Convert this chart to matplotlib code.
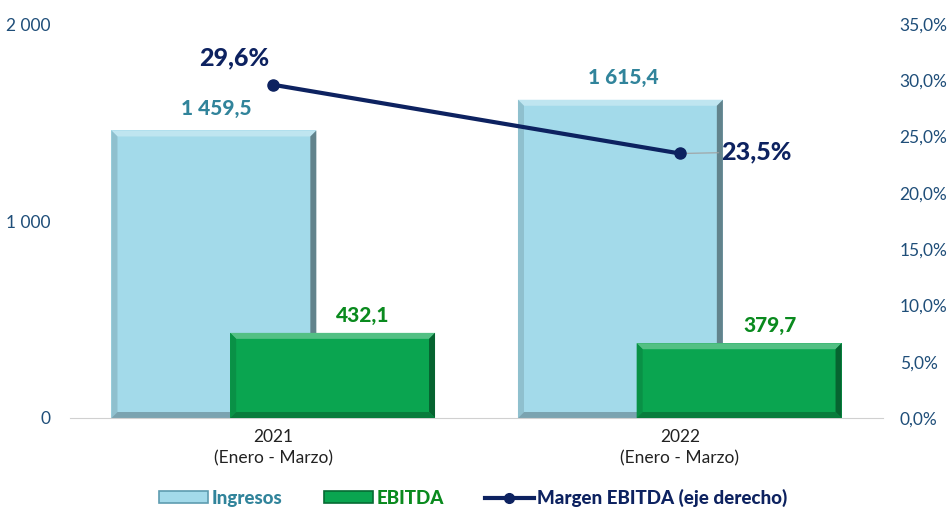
import matplotlib
matplotlib.use("Agg")
import matplotlib.pyplot as plt
from matplotlib.patches import Polygon, Rectangle
from matplotlib.ticker import FuncFormatter, MultipleLocator
from matplotlib import font_manager as fm
import matplotlib.colors as mc
import numpy as np

categories = ["2021\n(Enero - Marzo)", "2022\n(Enero - Marzo)"]
ingresos = [1459.5, 1615.4]
ebitda = [432.1, 379.7]
margen = [29.6, 23.5]
ingresos_labels = ["1 459,5", "1 615,4"]
ebitda_labels = ["432,1", "379,7"]
margen_labels = ["29,6%", "23,5%"]

plt.rcParams['font.family'] = ['Lato', 'DejaVu Sans']

# find a bold face
bold_file = None
for fam in ['Lato', 'Open Sans', 'Noto Sans', 'DejaVu Sans']:
    cands = [f for f in fm.fontManager.ttflist if f.name == fam and f.style == 'normal'
             and (isinstance(f.weight, int) and f.weight >= 700 or f.weight in ('bold', 'heavy', 'black'))]
    if cands:
        bold_file = cands[0].fname
        break
def BP(size):
    if bold_file:
        return fm.FontProperties(fname=bold_file, size=size)
    return fm.FontProperties(family='DejaVu Sans', weight='bold', size=size)

C_ING = "#A3DAEA"
C_ING_TXT = "#31849B"
C_EBI = "#0AA550"
C_EBI_TXT = "#0A8A1E"
C_LINE = "#0D2260"
C_TICK = "#1F4E79"

fig = plt.figure(figsize=(9.47, 5.11), dpi=100)
ax = fig.add_axes([70/947, 1-418/511, 813/947, 394/511])
ax2 = ax.twinx()

x = np.arange(len(categories))
w = 0.504
off = 0.146
b1 = ax.bar(x - off, ingresos, w, color=C_ING, zorder=2)
b2 = ax.bar(x + off, ebitda, w, color=C_EBI, zorder=3)

ax.set_xlim(-0.5, 1.5)
ax.set_ylim(0, 2000)
ax2.set_ylim(0, 35)
ax.yaxis.set_major_locator(MultipleLocator(1000))
ax2.yaxis.set_major_locator(MultipleLocator(5))
ax.yaxis.set_major_formatter(FuncFormatter(lambda v, p: f"{int(v):,}".replace(",", " ")))
ax2.yaxis.set_major_formatter(FuncFormatter(lambda v, p: f"{v:.1f}%".replace(".", ",")))
for a in (ax, ax2):
    for s in a.spines.values():
        s.set_visible(False)
    a.tick_params(length=0, labelsize=12.5, labelcolor=C_TICK)
ax.spines['bottom'].set_visible(True)
ax.spines['bottom'].set_color("#D0D0D0")
ax.set_xticks(x)
ax.set_xticklabels(categories, fontsize=12.5, color="#222222", linespacing=1.4)
ax.tick_params(axis='y', pad=14)
ax2.tick_params(axis='y', pad=12)
ax.tick_params(axis='x', pad=8)

# bevel effect
fig.canvas.draw()
inv = ax.transData.inverted()
def bevel(bar, base, zo):
    bb = bar.get_window_extent()
    d = 6
    x0, y0, x1, y1 = bb.x0, bb.y0, bb.x1, bb.y1
    def P(pts):
        return [tuple(inv.transform(p)) for p in pts]
    rgb = np.array(mc.to_rgb(base))
    light = np.clip(rgb + (1 - rgb) * 0.3, 0, 1)
    polys = [
        (P([(x0, y1), (x1, y1), (x1 - d, y1 - d), (x0 + d, y1 - d)]), light),
        (P([(x0, y0), (x0, y1), (x0 + d, y1 - d), (x0 + d, y0 + d)]), rgb * 0.88),
        (P([(x1, y0), (x1, y1), (x1 - d, y1 - d), (x1 - d, y0 + d)]), rgb * 0.6),
        (P([(x0, y0), (x1, y0), (x1 - d, y0 + d), (x0 + d, y0 + d)]), rgb * 0.75),
    ]
    for pts, c in polys:
        ax.add_patch(Polygon(pts, closed=True, facecolor=c, edgecolor='none', zorder=zo))

for b in b1:
    bevel(b, C_ING, 2.1)
for b in b2:
    bevel(b, C_EBI, 3.1)

for i in range(len(x)):
    ax.annotate(ingresos_labels[i], (x[i] - off, ingresos[i]), xytext=(2, 9), textcoords='offset points',
                ha='center', va='bottom', fontproperties=BP(15), color=C_ING_TXT)
    ax.annotate(ebitda_labels[i], (x[i] + off, ebitda[i]), xytext=(22, 6), textcoords='offset points',
                ha='center', va='bottom', fontproperties=BP(15), color=C_EBI_TXT)

ax2.plot(x, margen, color=C_LINE, lw=3, marker='o', ms=8, zorder=5)
ax2.annotate(margen_labels[0], (x[0], margen[0]), xytext=(-28, 11), textcoords='offset points',
             ha='center', va='bottom', fontproperties=BP(18), color=C_LINE)
ax2.annotate(margen_labels[1], (x[1], margen[1]), xytext=(30, 1), textcoords='offset points',
             ha='left', va='center', fontproperties=BP(18), color=C_LINE,
             arrowprops=dict(arrowstyle='-', color='#A0A0A0', lw=0.8, shrinkA=0, shrinkB=0))
ax2.set_zorder(ax.get_zorder() + 1)
ax2.patch.set_visible(False)

# legend
from matplotlib.lines import Line2D
h1 = Rectangle((0, 0), 1, 1, facecolor=C_ING, edgecolor="#5E9CB0", lw=1.2)
h2 = Rectangle((0, 0), 1, 1, facecolor=C_EBI, edgecolor="#066B33", lw=1.2)
h3 = Line2D([], [], color=C_LINE, lw=3, marker='o', ms=7)
leg = fig.legend([h1, h2, h3], ["Ingresos", "EBITDA", "Margen EBITDA (eje derecho)"],
                 loc='lower center', bbox_to_anchor=(0.5, -0.025), ncol=3, frameon=False,
                 handlelength=2.6, handleheight=0.6, handletextpad=0.2, columnspacing=2.2,
                 prop=BP(13.5))
for t, c in zip(leg.get_texts(), [C_ING_TXT, C_EBI_TXT, C_LINE]):
    t.set_color(c)

fig.savefig("out.png", dpi=100)
